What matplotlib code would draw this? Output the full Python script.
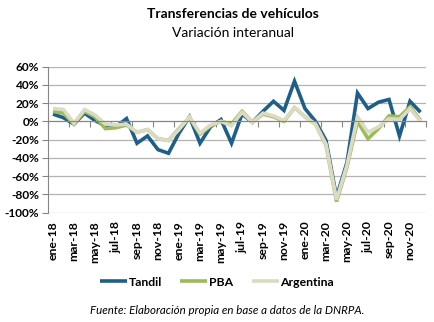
import matplotlib
matplotlib.use("Agg")
import matplotlib.pyplot as plt
from matplotlib.ticker import FixedLocator, FuncFormatter

# Monthly year-over-year change (%) of vehicle transfers, Jan-2018 .. Dec-2020
months = ["ene", "feb", "mar", "abr", "may", "jun",
          "jul", "ago", "sep", "oct", "nov", "dic"]
years = ["18", "19", "20"]
categories = [f"{m}-{y}" for y in years for m in months]

tandil = [8, 4, -3, 9, 1, -5, -6, 3, -24, -16, -31, -35,
          -13, 5, -24, -6, 2, -24, 8, -1, 11, 22, 12, 44,
          14, 0, -21, -83, -45, 31, 14, 21, 24, -16, 22, 10]
pba = [11, 9, -3, 11, 5, -8, -7, -4, -12, -9, -19, -21,
       -8, 4, -14, -5, 0, -3, 11, -1, 8, 5, 0, 15,
       5, -3, -26, -88, -50, 0, -19, -8, 6, 5, 16, 1]
argentina = [14, 13, -2, 13, 7, -3, -4, -3, -12, -9, -19, -21,
             -9, 5, -13, -4, 0, -5, 10, -1, 9, 6, 1, 15,
             5, -3, -25, -86, -48, 5, -12, -6, 3, 2, 14, 0]

series = [("Tandil", tandil, "#1d5f8a"),
          ("PBA", pba, "#9bbb59"),
          ("Argentina", argentina, "#dddac3")]

y_ticks = [60, 40, 20, 0, -20, -40, -60, -80, -100]

plt.rcParams["font.family"] = ["Lato", "DejaVu Sans"]

fig = plt.figure(figsize=(4.34, 3.22), dpi=100)
ax = fig.add_axes([0.11, 0.340, 0.871, 0.453])

x = list(range(len(categories)))
for name, vals, col in series:
    ax.plot(x, vals, color=col, lw=2.6, label=name, solid_capstyle="butt",
            solid_joinstyle="miter")

ax.set_xlim(-0.5, len(categories) - 0.5)
ax.set_ylim(-100, 60)
ax.set_yticks(y_ticks)
ax.yaxis.set_major_formatter(FuncFormatter(lambda v, p: f"{v:.0f}%"))
ax.grid(axis="y", color="#b4b4b4", lw=0.9)
ax.set_axisbelow(True)

axis_col = "#868686"
for s in ["top", "right"]:
    ax.spines[s].set_visible(False)
ax.spines["left"].set_color(axis_col)
ax.spines["bottom"].set_color(axis_col)
ax.spines["bottom"].set_position(("data", 0))

# category axis at zero: tick marks between every second month
ax.xaxis.set_major_locator(FixedLocator([i - 0.5 for i in range(0, len(categories) + 1, 2)]))
ax.tick_params(axis="x", which="major", length=4, color=axis_col, labelbottom=False)
ax.tick_params(axis="y", length=4, color=axis_col, labelsize=8.6, pad=2)
for lab in ax.get_yticklabels():
    lab.set_fontweight("bold")

# month labels below the plot area
sec = ax.secondary_xaxis(0.0)
sec.set_xticks(x[::2])
sec.set_xticklabels(categories[::2], rotation=90, fontsize=8.8, fontweight="bold")
sec.tick_params(length=0, pad=6)
sec.spines["bottom"].set_visible(False)

fig.text(0.537, 0.955, "Transferencias de vehículos", ha="center", va="center",
         fontsize=10, fontweight="bold")
fig.text(0.537, 0.897, "Variación interanual", ha="center", va="center", fontsize=10)

fig.legend(loc="center", bbox_to_anchor=(0.50, 0.124), ncol=3, frameon=False,
           handlelength=2.2, columnspacing=1.5, handletextpad=0.15,
           prop={"weight": "bold", "size": 8.8})

fig.text(0.523, 0.035, "Fuente: Elaboración propia en base a datos de la DNRPA.",
         ha="center", va="center", fontsize=8.3, style="italic")

fig.savefig("out.png", dpi=100)
